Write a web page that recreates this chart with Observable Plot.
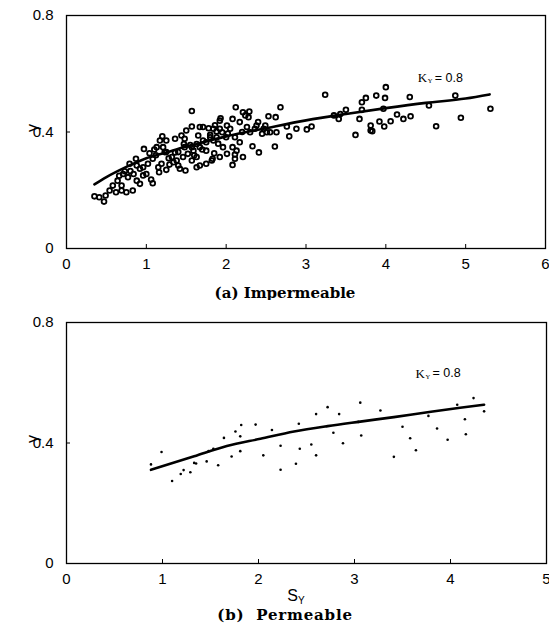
<!DOCTYPE html>
<html>
<head>
<meta charset="utf-8">
<script src="https://cdn.jsdelivr.net/npm/d3@7"></script>
<script src="https://cdn.jsdelivr.net/npm/@observablehq/plot@0.6"></script>
<style>
  body { margin: 0; background: #fff; }
  #wrap { position: relative; width: 549px; height: 633px; overflow: hidden; background: #fff; }
  #wrap > div.p { position: absolute; left: 0; }
  .cap { position: absolute; font-family: "DejaVu Serif", "Liberation Serif", serif; font-weight: bold; font-size: 15px; color: #000; white-space: nowrap; transform: translateX(-50%); }
  .xl { position: absolute; font-family: "Liberation Sans", Arial, sans-serif; font-size: 16px; color: #000; white-space: nowrap; transform: translateX(-50%); }
  .xl sub { font-size: 10px; vertical-align: -3px; }
</style>
</head>
<body>
<div id="wrap">
  <div class="p" id="top" style="top:0"></div>
  <div class="cap" style="left:285px; top:284px">(a) Impermeable</div>
  <div class="p" id="bot" style="top:300px"></div>
  <div class="xl" style="left:296px; top:587px">S<sub>Y</sub></div>
  <div class="cap" style="left:285px; top:606px; letter-spacing:0.8px; word-spacing:6px">(b) Permeable</div>
</div>
<script>
// ---- Panel (a) Impermeable: scatter ----
const impX = [3.24,4.00,3.88,3.99,3.75,3.70,3.70,3.50,3.41,3.35,3.67,3.62,3.81,3.83,3.92,3.98,4.06,4.14,4.22,4.31,4.30,4.54,4.63,4.87,4.94,5.31,3.97,3.07,3.01,2.79,2.76,2.68,2.62,2.53,2.61,2.41,2.33,2.29,2.21,2.12,2.24,2.26,2.40,2.47,2.55,2.08,1.93,1.86,1.78,1.67,1.57,1.57,1.50,1.44,1.47,1.49,1.20,1.17,1.10,0.97,0.87,0.79,1.16,1.25,1.34,1.40,1.57,1.67,1.63,1.75,1.83,1.85,1.84,1.96,2.01,2.08,2.11,2.08,2.00,2.11,2.17,2.05,1.95,1.88,1.75,1.67,1.59,1.52,1.46,1.38,1.29,1.23,1.08,1.02,0.92,1.06,1.08,0.92,0.84,0.77,0.71,0.64,0.58,0.54,0.62,0.69,0.75,0.83,0.69,0.35,0.41,0.49,0.47,0.96,0.88,1.21,1.25,1.32,1.40,1.48,1.57,1.63,1.71,1.80,1.92,2.01,2.17,2.30,2.36,2.51,1.88,1.71,1.65,1.48,1.36,1.25,1.13,1.04,0.80,0.96,0.88,1.00,1.15,1.19,1.63,1.42,1.75,1.82,1.92,2.13,2.21,2.11,1.92,1.84,2.28,2.38,2.49,2.45,2.63,2.88,3.43,3.81,1.55,1.70,1.90,2.02,1.36,1.12,0.66,0.73,1.80,2.20,1.60,1.28];
const impY = [0.528,0.554,0.525,0.517,0.517,0.502,0.476,0.476,0.445,0.457,0.445,0.390,0.422,0.403,0.436,0.419,0.437,0.460,0.445,0.454,0.520,0.491,0.420,0.525,0.449,0.480,0.480,0.419,0.409,0.385,0.419,0.485,0.451,0.454,0.350,0.330,0.351,0.470,0.468,0.485,0.457,0.417,0.434,0.411,0.399,0.445,0.447,0.423,0.413,0.417,0.472,0.419,0.405,0.388,0.359,0.268,0.385,0.371,0.340,0.342,0.308,0.291,0.262,0.270,0.296,0.285,0.302,0.285,0.314,0.336,0.308,0.327,0.371,0.348,0.325,0.348,0.323,0.287,0.382,0.382,0.365,0.411,0.399,0.382,0.365,0.348,0.336,0.325,0.314,0.302,0.288,0.331,0.308,0.291,0.274,0.237,0.224,0.222,0.256,0.245,0.256,0.233,0.216,0.199,0.193,0.199,0.193,0.199,0.216,0.179,0.176,0.182,0.161,0.279,0.285,0.348,0.331,0.314,0.331,0.348,0.348,0.359,0.371,0.382,0.411,0.422,0.434,0.399,0.411,0.399,0.402,0.417,0.388,0.377,0.377,0.371,0.348,0.327,0.266,0.251,0.233,0.256,0.279,0.291,0.279,0.274,0.291,0.302,0.314,0.336,0.314,0.308,0.439,0.411,0.451,0.422,0.422,0.394,0.399,0.411,0.462,0.405,0.355,0.340,0.360,0.395,0.330,0.320,0.250,0.265,0.390,0.400,0.320,0.310];
// fitted curve (a)
const impLineX = [0.35,0.5,0.75,1.0,1.25,1.5,1.75,2.0,2.5,3.0,3.5,4.0,4.5,5.0,5.3];
const impLineY = [0.220,0.245,0.280,0.310,0.330,0.350,0.367,0.385,0.413,0.440,0.462,0.482,0.500,0.515,0.529];

// ---- Panel (b) Permeable: scatter ----
const permX = [0.88,0.99,1.10,1.19,1.22,1.29,1.33,1.35,1.46,1.48,1.53,1.58,1.64,1.72,1.76,1.81,1.81,1.82,1.97,2.05,2.14,2.23,2.23,2.39,2.42,2.43,2.55,2.60,2.60,2.72,2.78,2.84,2.88,3.06,3.07,3.04,3.27,3.41,3.50,3.58,3.64,3.77,3.86,3.97,4.07,4.15,4.16,4.24,4.35];
const permY = [0.329,0.370,0.274,0.297,0.310,0.303,0.334,0.332,0.339,0.373,0.381,0.326,0.417,0.355,0.438,0.422,0.373,0.460,0.461,0.359,0.443,0.391,0.311,0.331,0.464,0.381,0.395,0.496,0.359,0.519,0.434,0.496,0.399,0.534,0.425,0.470,0.508,0.354,0.454,0.416,0.376,0.490,0.448,0.411,0.527,0.479,0.429,0.549,0.505];
// fitted curve (b)
const permLineX = [0.88,1.33,1.67,2.02,2.37,2.72,3.06,3.41,3.76,4.10,4.35];
const permLineY = [0.311,0.356,0.390,0.414,0.438,0.456,0.471,0.486,0.502,0.517,0.527];

// ticks & labels
const yTicks = [0, 0.4, 0.8];
const yTickLabels = ["0", "0.4", "0.8"];
const xTicksA = [0, 1, 2, 3, 4, 5, 6];
const xTicksB = [0, 1, 2, 3, 4, 5];
const kLabelA = [{x: 4.40, y: 0.587}];
const kLabelB = [{x: 3.635, y: 0.631}];
const kText = ["K", "Y", "= 0.8"];

const sans = "Liberation Sans, Arial, sans-serif";
const serif = "Liberation Serif, Times New Roman, serif";

function panel({width, height, mt, mb, ml, mr, xDomain, xTicks, ptsX, ptsY, lineX, lineY, kLabel, dotStyle}) {
  const pts = ptsX.map((x, i) => ({x, y: ptsY[i]}));
  const line = lineX.map((x, i) => ({x, y: lineY[i]}));
  const fh = height - mt - mb, fw = width - ml - mr;
  return Plot.plot({
    width, height,
    marginTop: mt, marginBottom: mb, marginLeft: ml, marginRight: mr,
    style: {fontFamily: sans, fontSize: "15px", color: "#000", background: "#fff", overflow: "visible"},
    x: {domain: xDomain},
    y: {domain: [0, 0.8]},
    marks: [
      Plot.axisX({ticks: xTicks, tickSize: 0, tickPadding: 10, tickFormat: d => String(d), label: null, fontSize: 15}),
      Plot.axisY({ticks: yTicks, tickSize: 0, tickPadding: 13, tickFormat: d => yTickLabels[yTicks.indexOf(d)], label: null, fontSize: 15}),
      Plot.tickX(xTicks, {x: d => d, insetTop: fh - 4, stroke: "#000", strokeWidth: 1}),
      Plot.tickY(yTicks, {y: d => d, insetRight: fw - 4, stroke: "#000", strokeWidth: 1}),
      Plot.frame({stroke: "#000", strokeWidth: 1.3}),
      Plot.dot(pts, {x: "x", y: "y", ...dotStyle}),
      Plot.line(line, {x: "x", y: "y", stroke: "#000", strokeWidth: 2.6, curve: "monotone-x"}),
      Plot.text(kLabel, {x: "x", y: "y", text: () => kText[0], textAnchor: "start", fontFamily: serif, fontSize: 13}),
      Plot.text(kLabel, {x: "x", y: "y", text: () => kText[1], textAnchor: "start", dx: 10, dy: 3, fontFamily: serif, fontSize: 6.5}),
      Plot.text(kLabel, {x: "x", y: "y", text: () => kText[2], textAnchor: "start", dx: 17, fontFamily: sans, fontSize: 12.5}),
      Plot.text(["γ"], {frameAnchor: "left", dx: -34, text: d => d, rotate: -90, fontSize: 16, fontFamily: sans})
    ]
  });
}

document.getElementById("top").append(panel({
  width: 549, height: 282, mt: 15, mb: 34, ml: 66, mr: 4,
  xDomain: [0, 6], xTicks: xTicksA,
  ptsX: impX, ptsY: impY, lineX: impLineX, lineY: impLineY, kLabel: kLabelA,
  dotStyle: {r: 2.4, stroke: "#000", strokeWidth: 1.8, fill: "none"}
}));

document.getElementById("bot").append(panel({
  width: 549, height: 290, mt: 22, mb: 27, ml: 66, mr: 3,
  xDomain: [0, 5], xTicks: xTicksB,
  ptsX: permX, ptsY: permY, lineX: permLineX, lineY: permLineY, kLabel: kLabelB,
  dotStyle: {r: 1.3, fill: "#000", stroke: "none"}
}));
</script>
</body>
</html>
